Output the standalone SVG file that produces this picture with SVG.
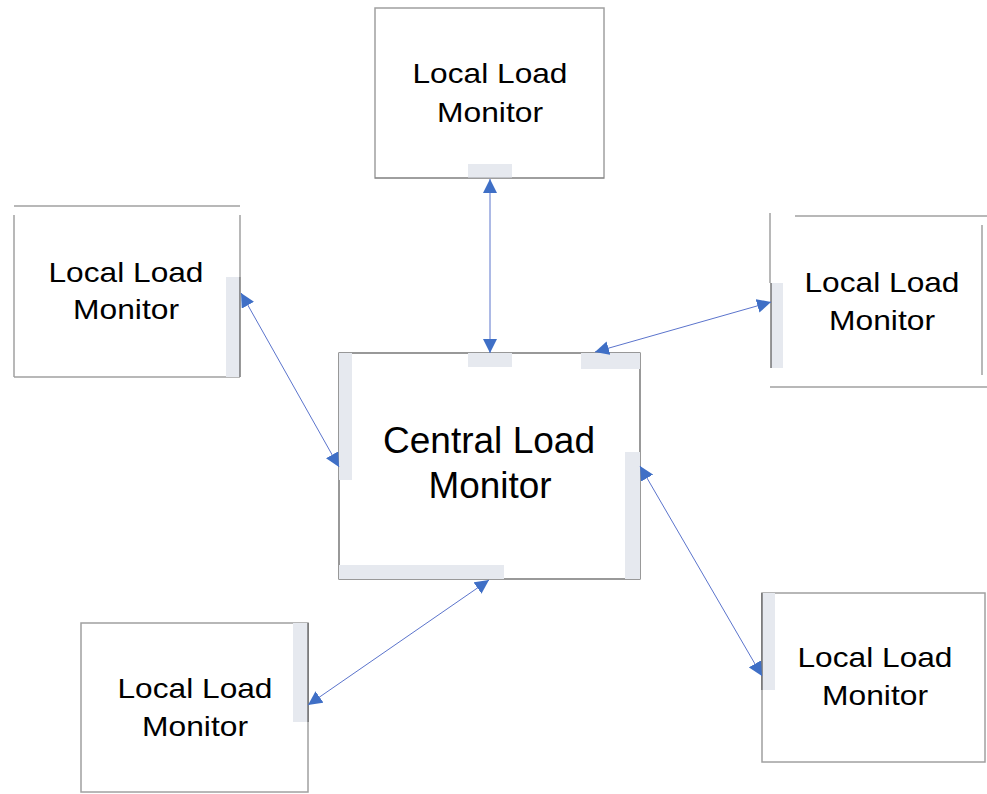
<svg xmlns="http://www.w3.org/2000/svg" width="987" height="794" viewBox="0 0 987 794">
<style>
.bg{fill:#fff}
.box{fill:none;stroke:#a0a0a0;stroke-width:1.5}
.dk{fill:none;stroke:#555;stroke-width:1.2}
.bar{fill:#e6e9ef}
.t{font-family:"Liberation Sans",Arial,sans-serif;font-size:28px;fill:#000;text-anchor:middle}
.tc{font-family:"Liberation Sans",Arial,sans-serif;font-size:36px;fill:#000;text-anchor:middle}
.c{stroke:#5b74cc;stroke-width:1;fill:none;marker-start:url(#ah);marker-end:url(#ah)}
</style>
<defs>
<marker id="ah" viewBox="0 0 14 14" refX="14" refY="7" markerWidth="14" markerHeight="14" markerUnits="userSpaceOnUse" orient="auto-start-reverse">
<path d="M0,0 L14,7 L0,14 Z" fill="#3f6fc6"/>
</marker>
</defs>
<rect class="bg" width="987" height="794"/>

<g id="node-top">
<rect class="box" x="375" y="8" width="229" height="170"/>
<rect class="bar" x="468" y="164" width="44" height="14"/>
<line class="dk" x1="375" y1="178" x2="604" y2="178" stroke-opacity="0.5"/>
<text class="t" x="490" y="83" textLength="155" lengthAdjust="spacingAndGlyphs">Local Load</text>
<text class="t" x="490" y="122" textLength="106" lengthAdjust="spacingAndGlyphs">Monitor</text>
</g>

<g id="node-central">
<rect class="dk" x="339" y="353" width="301" height="226" stroke="#777"/>
<rect class="bar" x="468" y="353" width="44" height="14"/>
<rect class="bar" x="581" y="353" width="59" height="16"/>
<rect class="bar" x="339" y="353" width="13" height="127"/>
<rect class="bar" x="625" y="452" width="15" height="127"/>
<rect class="bar" x="339" y="565" width="165" height="14"/>
<text class="tc" x="489" y="453" textLength="212" lengthAdjust="spacingAndGlyphs">Central Load</text>
<text class="tc" x="490" y="498" textLength="123" lengthAdjust="spacingAndGlyphs">Monitor</text>
</g>

<g id="node-left">
<line class="box" x1="14" y1="206" x2="240" y2="206"/>
<line class="box" x1="14" y1="215" x2="14" y2="377"/>
<line class="box" x1="14" y1="377" x2="240" y2="377"/>
<line class="box" x1="240" y1="215" x2="240" y2="277"/>
<rect class="bar" x="226" y="277" width="14" height="100"/>
<line class="dk" x1="240" y1="277" x2="240" y2="377"/>
<text class="t" x="126" y="282" textLength="155" lengthAdjust="spacingAndGlyphs">Local Load</text>
<text class="t" x="126" y="319" textLength="106" lengthAdjust="spacingAndGlyphs">Monitor</text>
</g>

<g id="node-right">
<line class="box" x1="795" y1="216" x2="987" y2="216"/>
<line class="box" x1="770" y1="387" x2="987" y2="387"/>
<line class="box" x1="770" y1="213" x2="770" y2="283" stroke="#c8c8c8"/>
<line class="box" x1="982" y1="225" x2="982" y2="375" stroke="#e2e2e2"/>
<rect class="bar" x="771" y="283" width="12" height="85"/>
<line class="dk" x1="771" y1="283" x2="771" y2="368"/>
<text class="t" x="882" y="292" textLength="155" lengthAdjust="spacingAndGlyphs">Local Load</text>
<text class="t" x="882" y="330" textLength="106" lengthAdjust="spacingAndGlyphs">Monitor</text>
</g>

<g id="node-bottom-left">
<rect class="box" x="81" y="623" width="227" height="169"/>
<rect class="bar" x="293" y="623" width="15" height="99"/>
<line class="dk" x1="308" y1="623" x2="308" y2="722"/>
<text class="t" x="195" y="698" textLength="155" lengthAdjust="spacingAndGlyphs">Local Load</text>
<text class="t" x="195" y="736" textLength="106" lengthAdjust="spacingAndGlyphs">Monitor</text>
</g>

<g id="node-bottom-right">
<rect class="box" x="762" y="593" width="223" height="169"/>
<rect class="bar" x="762" y="593" width="13" height="97"/>
<line class="dk" x1="762" y1="593" x2="762" y2="690"/>
<text class="t" x="875" y="667" textLength="155" lengthAdjust="spacingAndGlyphs">Local Load</text>
<text class="t" x="875" y="705" textLength="106" lengthAdjust="spacingAndGlyphs">Monitor</text>
</g>

<g id="connectors">
<line class="c" x1="490" y1="179" x2="490" y2="353"/>
<line class="c" x1="241" y1="293" x2="339" y2="467"/>
<line class="c" x1="771" y1="302" x2="595" y2="352"/>
<line class="c" x1="640" y1="466" x2="762" y2="676"/>
<line class="c" x1="489" y1="580" x2="308" y2="705"/>
</g>
</svg>
